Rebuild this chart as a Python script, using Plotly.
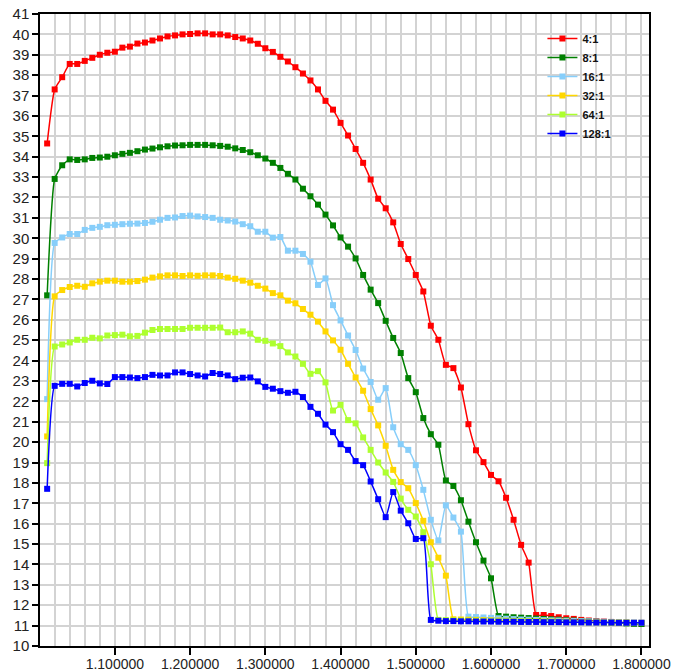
import plotly.graph_objects as go

x_values = [1.01, 1.02, 1.03, 1.04, 1.05, 1.06, 1.07, 1.08, 1.09, 1.10,
            1.11, 1.12, 1.13, 1.14, 1.15, 1.16, 1.17, 1.18, 1.19, 1.20,
            1.21, 1.22, 1.23, 1.24, 1.25, 1.26, 1.27, 1.28, 1.29, 1.30,
            1.31, 1.32, 1.33, 1.34, 1.35, 1.36, 1.37, 1.38, 1.39, 1.40,
            1.41, 1.42, 1.43, 1.44, 1.45, 1.46, 1.47, 1.48, 1.49, 1.50,
            1.51, 1.52, 1.53, 1.54, 1.55, 1.56, 1.57, 1.58, 1.59, 1.60,
            1.61, 1.62, 1.63, 1.64, 1.65, 1.66, 1.67, 1.68, 1.69, 1.70,
            1.71, 1.72, 1.73, 1.74, 1.75, 1.76, 1.77, 1.78, 1.79, 1.80]

ratio_4_1 = [34.65, 37.3, 37.9, 38.55, 38.55, 38.7, 38.85, 39.0, 39.1, 39.15,
             39.35, 39.4, 39.55, 39.6, 39.7, 39.8, 39.9, 39.95, 40.0, 40.02,
             40.05, 40.05, 40.0, 40.0, 39.95, 39.87, 39.8, 39.7, 39.54, 39.32,
             39.14, 38.9, 38.67, 38.39, 38.08, 37.74, 37.3, 36.74, 36.31, 35.66,
             35.04, 34.38, 33.7, 32.88, 31.94, 31.47, 30.78, 29.72, 28.98, 28.2,
             27.39, 25.71, 25.02, 23.79, 23.63, 22.68, 20.88, 19.6, 19.02, 18.39,
             18.08, 17.27, 16.19, 14.96, 14.09, 11.52, 11.52, 11.47, 11.41, 11.36,
             11.33, 11.28, 11.25, 11.22, 11.2, 11.18, 11.16, 11.14, 11.12, 11.1]

ratio_8_1 = [27.2, 32.91, 33.58, 33.87, 33.84, 33.87, 33.94, 33.96, 34.0, 34.07,
             34.14, 34.19, 34.27, 34.35, 34.4, 34.46, 34.51, 34.55, 34.56, 34.58,
             34.58, 34.58, 34.56, 34.53, 34.49, 34.41, 34.33, 34.22, 34.07, 33.91,
             33.7, 33.45, 33.16, 32.88, 32.43, 32.06, 31.65, 31.16, 30.63, 30.04,
             29.59, 29.01, 28.2, 27.48, 26.82, 25.95, 25.11, 24.37, 23.14, 22.45,
             21.18, 20.39, 19.87, 18.12, 17.85, 17.15, 16.1, 15.09, 14.19, 13.32,
             11.47, 11.44, 11.41, 11.39, 11.37, 11.35, 11.33, 11.31, 11.29, 11.27,
             11.25, 11.23, 11.21, 11.19, 11.17, 11.15, 11.13, 11.11, 11.09, 11.08]

ratio_16_1 = [22.11, 29.77, 30.04, 30.21, 30.21, 30.41, 30.51, 30.56, 30.64, 30.66,
              30.69, 30.71, 30.72, 30.75, 30.81, 30.91, 31.0, 31.02, 31.09, 31.11,
              31.07, 31.04, 31.0, 30.91, 30.87, 30.82, 30.69, 30.59, 30.32, 30.32,
              30.03, 30.06, 29.39, 29.39, 29.23, 28.85, 27.71, 28.03, 26.72, 25.97,
              25.23, 24.52, 23.61, 22.95, 22.08, 22.65, 20.73, 19.9, 19.62, 18.87,
              17.66, 16.19, 15.18, 16.9, 16.3, 15.61, 11.44, 11.42, 11.4, 11.38,
              11.36, 11.34, 11.32, 11.3, 11.29, 11.28, 11.27, 11.26, 11.25, 11.24,
              11.23, 11.22, 11.21, 11.2, 11.19, 11.18, 11.17, 11.16, 11.15, 11.14]

ratio_32_1 = [20.28, 27.15, 27.46, 27.61, 27.67, 27.62, 27.79, 27.87, 27.92, 27.92,
              27.87, 27.87, 27.9, 27.97, 28.07, 28.13, 28.18, 28.18, 28.15, 28.18,
              28.16, 28.18, 28.18, 28.15, 28.07, 28.01, 27.92, 27.82, 27.67, 27.53,
              27.31, 27.2, 26.94, 26.81, 26.53, 26.25, 25.91, 25.43, 24.99, 24.53,
              23.84, 23.17, 22.52, 21.62, 20.82, 19.82, 18.64, 18.04, 17.74, 17.01,
              16.14, 15.09, 14.33, 13.45, 11.31, 11.3, 11.29, 11.28, 11.27, 11.26,
              11.25, 11.24, 11.23, 11.22, 11.21, 11.21, 11.2, 11.2, 11.19, 11.19,
              11.18, 11.18, 11.17, 11.17, 11.16, 11.16, 11.15, 11.15, 11.14, 11.14]

ratio_64_1 = [18.97, 24.69, 24.79, 24.89, 25.02, 25.02, 25.12, 25.09, 25.23, 25.25,
              25.27, 25.19, 25.21, 25.37, 25.5, 25.55, 25.55, 25.55, 25.55, 25.61,
              25.61, 25.61, 25.61, 25.62, 25.39, 25.39, 25.43, 25.32, 25.02, 24.97,
              24.84, 24.71, 24.4, 24.2, 23.84, 23.35, 23.48, 22.93, 21.55, 21.83,
              21.08, 20.92, 20.23, 19.62, 19.0, 18.51, 18.05, 17.23, 16.68, 16.35,
              15.58, 14.01, 11.28, 11.27, 11.26, 11.25, 11.24, 11.24, 11.23, 11.23,
              11.22, 11.22, 11.21, 11.21, 11.2, 11.2, 11.19, 11.19, 11.18, 11.18,
              11.17, 11.17, 11.16, 11.16, 11.15, 11.15, 11.14, 11.14, 11.13, 11.13]

ratio_128_1 = [17.71, 22.76, 22.86, 22.86, 22.73, 22.9, 23.01, 22.88, 22.85, 23.19,
               23.19, 23.17, 23.14, 23.19, 23.3, 23.27, 23.27, 23.42, 23.42, 23.34,
               23.27, 23.22, 23.39, 23.34, 23.27, 23.09, 23.16, 23.17, 22.98, 22.71,
               22.62, 22.5, 22.42, 22.47, 22.21, 21.73, 21.39, 20.86, 20.49, 19.9,
               19.62, 19.07, 18.87, 18.07, 17.2, 16.32, 17.55, 16.64, 16.02, 15.25,
               15.29, 11.28, 11.24, 11.22, 11.22, 11.21, 11.21, 11.2, 11.2, 11.2,
               11.19, 11.19, 11.19, 11.18, 11.18, 11.18, 11.17, 11.17, 11.17, 11.16,
               11.16, 11.16, 11.15, 11.15, 11.15, 11.15, 11.14, 11.14, 11.14, 11.14]

series_names = ["4:1", "8:1", "16:1", "32:1", "64:1", "128:1"]
series_values = [ratio_4_1, ratio_8_1, ratio_16_1, ratio_32_1, ratio_64_1, ratio_128_1]
series_colors = ["#FF0000", "#008000", "#87CEFA", "#FFD700", "#ADFF2F", "#0000FF"]

fig = go.Figure()
for name, vals, col in zip(series_names, series_values, series_colors):
    fig.add_trace(go.Scatter(
        x=x_values, y=vals, name=name, mode="lines+markers",
        line=dict(color=col, width=1.5, shape="spline", smoothing=0.5),
        marker=dict(symbol="square", size=6, color=col),
    ))

font_family = "Arial, Liberation Sans, sans-serif"
fig.update_layout(
    width=685, height=672,
    margin=dict(l=40, r=36, t=14, b=26, autoexpand=False),
    paper_bgcolor="white", plot_bgcolor="white",
    font=dict(family=font_family, size=14, color="#222222"),
    showlegend=True,
    legend=dict(
        x=0.825, y=0.984, xanchor="left", yanchor="top",
        bgcolor="rgba(0,0,0,0)", borderwidth=0,
        font=dict(family=font_family, size=11, color="#111111", weight="bold"),
        itemwidth=30, tracegroupgap=0,
    ),
    xaxis=dict(
        range=[1.0005, 1.81], tick0=1.0, dtick=0.1, tickformat=".6f",
        automargin=False, ticklabeloverflow="allow", ticklabelstandoff=-3,
        showgrid=True, gridcolor="#D3D3D3", gridwidth=1.5,
        minor=dict(dtick=0.02, tick0=1.0, showgrid=True, gridcolor="#D3D3D3", gridwidth=1.5),
        showline=True, linecolor="#000000", linewidth=1.5, mirror=True,
        ticks="outside", ticklen=7, tickcolor="#000000", tickwidth=1.5,
        zeroline=False, tickfont=dict(size=14),
    ),
    yaxis=dict(
        range=[10, 41], dtick=1, tick0=10,
        automargin=False, ticklabeloverflow="allow",
        showgrid=True, gridcolor="#D3D3D3", gridwidth=1.5,
        showline=True, linecolor="#000000", linewidth=1.5, mirror=True,
        ticks="outside", ticklen=6, tickcolor="#000000", tickwidth=1.5,
        zeroline=False, tickfont=dict(size=15),
    ),
)

fig.write_html("out.html", config={"displayModeBar": False},
               post_script="document.body.style.margin='0';document.body.style.overflow='hidden';")
